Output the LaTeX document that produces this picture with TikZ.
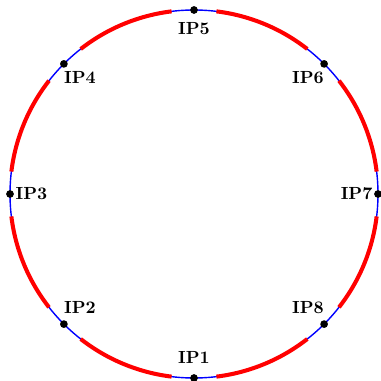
\documentclass[tikz,border=0pt]{standalone}
\usetikzlibrary{positioning}
\begin{document}
\begin{tikzpicture}[x=0.02cm,y=0.02cm,
  redarc/.style={red,line width=2.3pt},
  bluecirc/.style={blue,line width=0.8pt},
  dot/.style={circle,fill=black,inner sep=0pt,minimum size=4.4pt},
  lbl/.style={font=\bfseries,inner sep=1pt}]
\useasboundingbox (-194,-187) rectangle (187,194);
\draw[bluecirc] (0,0) circle (184);
\foreach \k in {0,...,7}{
  \draw[redarc] ({\k*45+7}:184) arc[start angle={\k*45+7}, end angle={\k*45+38}, radius=184];
}
\node[dot] (p1) at (-90:184) {};
\node[dot] (p2) at (-135:184) {};
\node[dot] (p3) at (180:184) {};
\node[dot] (p4) at (135:184) {};
\node[dot] (p5) at (90:184) {};
\node[dot] (p6) at (45:184) {};
\node[dot] (p7) at (0:184) {};
\node[dot] (p8) at (-45:184) {};
\node[lbl,anchor=south] (l1) at ([yshift=7pt]p1.center) {IP1};
\node[lbl,anchor=south west] (l2) at ([xshift=-1pt,yshift=5pt]p2.center) {IP2};
\node[lbl,anchor=west] (l3) at ([xshift=2pt]p3.center) {IP3};
\node[lbl,anchor=north west] (l4) at ([xshift=-1pt,yshift=-3pt]p4.center) {IP4};
\node[lbl,anchor=north] (l5) at ([yshift=-6pt]p5.center) {IP5};
\node[lbl,anchor=north east] (l6) at ([xshift=1pt,yshift=-3pt]p6.center) {IP6};
\node[lbl,anchor=east] (l7) at ([xshift=-2pt]p7.center) {IP7};
\node[lbl,anchor=south east] (l8) at ([xshift=1pt,yshift=5pt]p8.center) {IP8};
\end{tikzpicture}
\end{document}
